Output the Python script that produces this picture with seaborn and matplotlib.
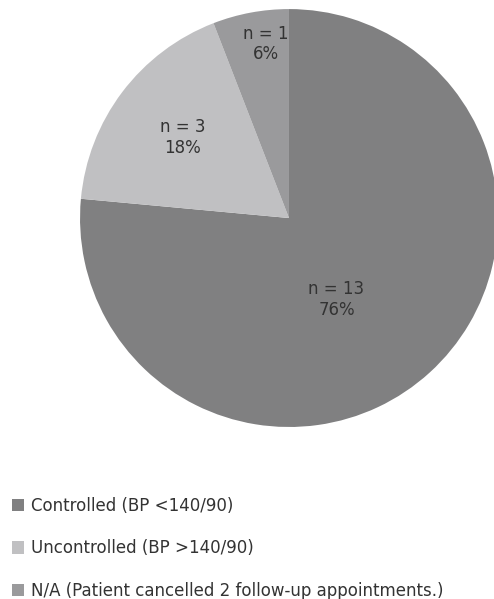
import numpy as np
import seaborn as sns
import matplotlib.pyplot as plt
from matplotlib.patches import Patch

# Data
categories = ["Controlled (BP <140/90)", "Uncontrolled (BP >140/90)",
              "N/A (Patient cancelled 2 follow-up appointments.)"]
counts = [13, 3, 1]
colors = ["#808081", "#c0c0c2", "#9a9a9c"]

sns.set_style("white")
plt.rcParams['font.family'] = ['DejaVu Sans']

fig = plt.figure(figsize=(4.94, 5.99), dpi=100)
ax = fig.add_axes([0.162, 0.287, 0.846, 0.698])

total = sum(counts)

def fmt(pct):
    n = int(round(pct * total / 100))
    return f"n = {n}\n{pct:.0f}%"

wedges, texts, autotexts = ax.pie(counts, colors=colors, startangle=90,
                                  counterclock=False, autopct=fmt,
                                  wedgeprops=dict(linewidth=0),
                                  textprops=dict(fontsize=12, color="#333333"))
ax.set_xlim(-1, 1)
ax.set_ylim(-1, 1)
ax.set_aspect("equal")

# nudge labels to where the original placed them
label_r = [0.45, 0.64, 0.84]
label_shift = [-12, 0, -3]
for w, t, r, s in zip(wedges, autotexts, label_r, label_shift):
    ang = np.deg2rad((w.theta1 + w.theta2) / 2 + s)
    t.set_position((r * np.cos(ang), r * np.sin(ang)))

handles = [Patch(facecolor=c, edgecolor="none") for c in colors]
fig.legend(handles, categories, loc="upper left", bbox_to_anchor=(0.024, 0.17),
           frameon=False, fontsize=12, labelspacing=1.45, handlelength=0.75,
           handleheight=0.75, handletextpad=0.4, borderpad=0, borderaxespad=0,
           labelcolor="#333333")

fig.savefig("out.png", dpi=100)
